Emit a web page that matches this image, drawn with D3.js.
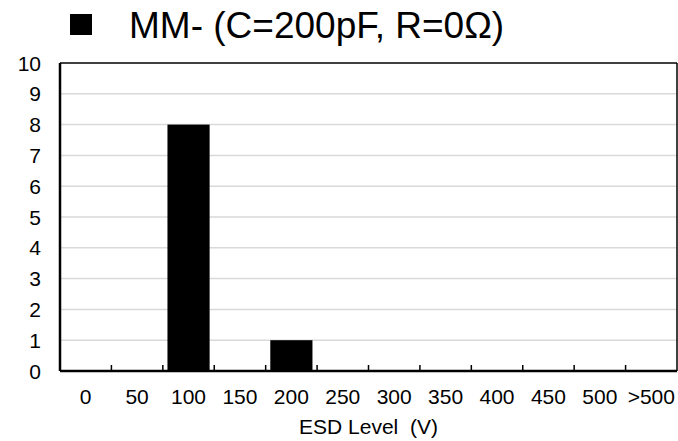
<!DOCTYPE html>
<html>
<head>
<meta charset="utf-8">
<script src="https://cdn.jsdelivr.net/npm/d3@7"></script>
<style>
  body { margin: 0; background: #fff; }
  svg { display: block; font-family: Arial, "Liberation Sans", sans-serif; }
</style>
</head>
<body>
<div id="chart"></div>
<script>
// ESD level buckets and device counts
var categories = ["0", "50", "100", "150", "200", "250", "300", "350", "400", "450", "500", ">500"];
var counts = [0, 0, 8, 0, 1, 0, 0, 0, 0, 0, 0, 0];
var yTicks = [0, 1, 2, 3, 4, 5, 6, 7, 8, 9, 10];
var legendLabel = "MM- (C=200pF, R=0\u03A9)";
var xTitle = "ESD Level  (V)";

var width = 678, height = 441;
var margin = {top: 63, right: 1, bottom: 70, left: 60};
var plotW = width - margin.left - margin.right;
var plotH = height - margin.top - margin.bottom;

var svg = d3.select("#chart").append("svg")
    .attr("width", width)
    .attr("height", height);

var x = d3.scaleBand()
    .domain(categories)
    .range([0, plotW])
    .paddingInner(0.18)
    .paddingOuter(0.09);

var y = d3.scaleLinear()
    .domain([0, 10])
    .range([plotH, 0]);

var g = svg.append("g")
    .attr("transform", "translate(" + margin.left + "," + margin.top + ")");

// gridlines
g.append("g")
    .selectAll("line")
    .data(yTicks.slice(1, -1))
    .enter()
    .append("line")
    .attr("x1", 0)
    .attr("x2", plotW)
    .attr("y1", function(d) { return y(d); })
    .attr("y2", function(d) { return y(d); })
    .attr("stroke", "#d9d9d9")
    .attr("stroke-width", 1.5);

// bars
g.append("g")
    .selectAll("rect")
    .data(counts)
    .enter()
    .append("rect")
    .attr("x", function(d, i) { return x(categories[i]); })
    .attr("width", x.bandwidth())
    .attr("y", function(d) { return y(d); })
    .attr("height", function(d) { return plotH - y(d); })
    .attr("fill", "#000");

// frame: thin top/right, heavier left/bottom
g.append("line").attr("x1", 0).attr("x2", plotW).attr("y1", 0).attr("y2", 0)
    .attr("stroke", "#000").attr("stroke-width", 1.5);
g.append("line").attr("x1", plotW).attr("x2", plotW).attr("y1", 0).attr("y2", plotH)
    .attr("stroke", "#000").attr("stroke-width", 1.5);
g.append("line").attr("x1", 0).attr("x2", 0).attr("y1", 0).attr("y2", plotH)
    .attr("stroke", "#000").attr("stroke-width", 2.5);
g.append("line").attr("x1", 0).attr("x2", plotW).attr("y1", plotH).attr("y2", plotH)
    .attr("stroke", "#000").attr("stroke-width", 2.5);

// inward ticks between categories
var gap = x.step() * x.paddingInner() / 2;
g.append("g")
    .selectAll("line")
    .data(categories.slice(1))
    .enter()
    .append("line")
    .attr("x1", function(d) { return x(d) - gap; })
    .attr("x2", function(d) { return x(d) - gap; })
    .attr("y1", plotH)
    .attr("y2", plotH - 6)
    .attr("stroke", "#000")
    .attr("stroke-width", 1.5);

// y labels
g.append("g")
    .selectAll("text")
    .data(yTicks)
    .enter()
    .append("text")
    .attr("x", -19)
    .attr("y", function(d) { return y(d); })
    .attr("dy", "0.36em")
    .attr("text-anchor", "end")
    .attr("font-size", 21)
    .attr("fill", "#000")
    .text(function(d) { return d; });

// x labels
g.append("g")
    .selectAll("text")
    .data(categories)
    .enter()
    .append("text")
    .attr("x", function(d) { return x(d) + x.bandwidth() / 2; })
    .attr("y", plotH + 33)
    .attr("text-anchor", "middle")
    .attr("font-size", 21)
    .attr("fill", "#000")
    .text(function(d) { return d; });

// x title
svg.append("text")
    .attr("x", margin.left + plotW / 2)
    .attr("y", 434)
    .attr("text-anchor", "middle")
    .attr("font-size", 21)
    .style("white-space", "pre")
    .attr("fill", "#000")
    .text(xTitle);

// legend
svg.append("rect")
    .attr("x", 70).attr("y", 14)
    .attr("width", 22).attr("height", 21)
    .attr("fill", "#000");
svg.append("text")
    .attr("x", 129).attr("y", 38)
    .attr("font-size", 37)
    .attr("fill", "#000")
    .text(legendLabel);
</script>
</body>
</html>
